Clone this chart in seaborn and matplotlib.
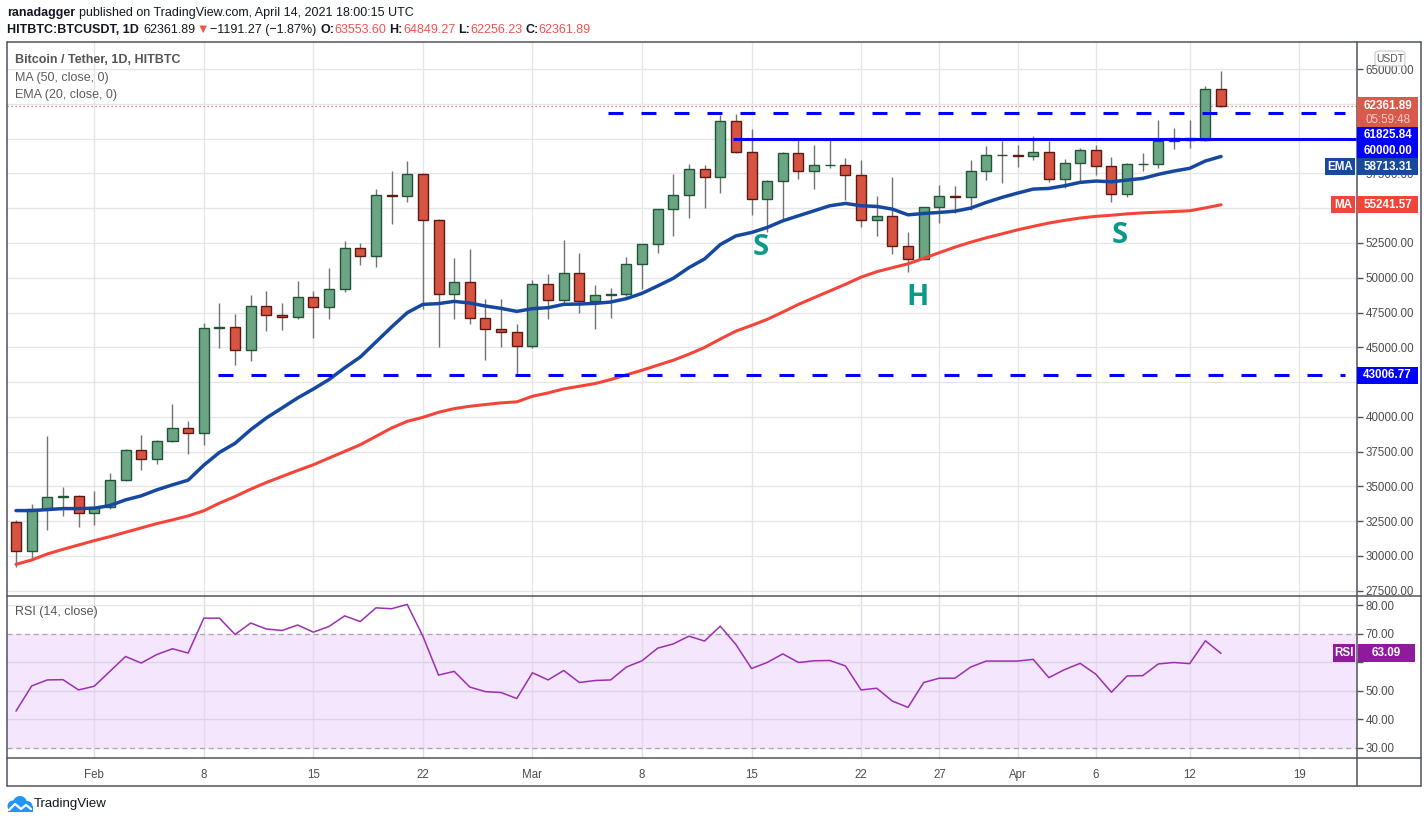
import numpy as np
import pandas as pd
import seaborn as sns
import matplotlib.pyplot as plt
from matplotlib.lines import Line2D
from matplotlib.patches import Rectangle, FancyBboxPatch, Circle

# ---- data (HITBTC BTC/USDT daily, Jan 27 - Apr 14 2021) ----
dates = pd.date_range("2021-01-27", "2021-04-14", freq="D")

opens = [32430, 30340, 33360, 34230, 34280,
         33070, 33510, 35450, 37610, 36970, 38260, 39200, 38840, 46400, 46480,
         44820, 47990, 47340, 47200, 48640, 47920, 49220, 52100, 51590, 55920,
         55880, 57430, 54120, 48850, 49720, 47130, 46330, 46120,
         45080, 49570, 48400, 50370, 48320, 48780, 48830, 50950, 52390, 54910,
         55920, 57790, 57210, 61250, 59010, 55630, 56930, 58940, 57650, 58080,
         58120, 57360, 54120, 54400, 52310, 51380, 55050, 55840, 55790, 57650,
         58800,
         58830, 58760, 59020, 57070, 58220, 59160, 58010, 55990, 58150, 58180,
         59810, 60020, 59900, 63553.60]
highs = [32590, 33750, 38600, 34970, 34370,
         34680, 35980, 37700, 38720, 38360, 40950, 39730, 46760, 48160, 47360,
         48730, 49020, 48160, 49740, 49020, 50680, 52620, 52530, 56370, 57670,
         58390, 57520, 54210, 51400, 52050, 48450, 48450, 46640,
         49810, 50250, 52700, 51760, 49450, 49240, 51470, 52450, 54950, 57480,
         58170, 58100, 61730, 61780, 60690, 57000, 59020, 59970, 59540, 59970,
         58580, 58440, 55840, 57210, 53250, 55100, 56640, 56600, 58460, 59470,
         59830,
         59520, 60170, 59830, 58510, 59300, 59520, 58650, 58220, 58940, 61340,
         60730, 61340, 63770, 64849.27]
lows = [29230, 29760, 31900, 32840, 32110,
        32260, 33410, 35360, 36150, 36600, 38160, 37300, 37950, 44940, 43710,
        44000, 46160, 46230, 47030, 45660, 47030, 49000, 50920, 50770, 53870,
        55460, 47750, 45010, 47030, 46670, 44070, 45010, 43020,
        44940, 47030, 48040, 47460, 46310, 47100, 48700, 49220, 51780, 53010,
        54300, 55020, 56100, 58950, 54520, 53320, 54190, 57070, 56350, 57860,
        55560, 53680, 53030, 51740, 50440, 51300, 53940, 54680, 54880, 57040,
        56830,
        57930, 58440, 56900, 56460, 56830, 57400, 55460, 55790, 57690, 57910,
        59230, 59330, 59810, 62256.23]
closes = [30340, 33360, 34230, 34280, 33070,
          33510, 35450, 37610, 36970, 38260, 39200, 38840, 46400, 46480, 44820,
          47990, 47340, 47200, 48640, 47920, 49220, 52100, 51590, 55920, 55880,
          57430, 54120, 48850, 49720, 47130, 46330, 46120, 45080,
          49570, 48400, 50370, 48320, 48780, 48830, 50950, 52390, 54910, 55920,
          57790, 57210, 61250, 59010, 55630, 56930, 58940, 57650, 58080, 58120,
          57360, 54120, 54400, 52310, 51380, 55050, 55840, 55790, 57650, 58800,
          58830,
          58760, 59020, 57070, 58220, 59160, 58010, 55990, 58150, 58180, 59810,
          60020, 59900, 63553.60, 62361.89]

ema20 = [33264, 33264, 33336, 33408, 33408,
         33434, 33626, 34034, 34322, 34755, 35115, 35451, 36530, 37445, 38100,
         39078, 39921, 40640, 41362, 42000, 42681, 43523, 44300, 45380, 46460,
         47486, 48085, 48140, 48300, 48180, 47963, 47797, 47580,
         47775, 47847, 48085, 48109, 48157, 48253, 48494, 48877, 49406, 49958,
         50726, 51350, 52380, 53005, 53250, 53610, 54090, 54451, 54811, 55171,
         55340, 55171, 55123, 54930, 54519, 54619, 54691, 54780, 55002, 55411,
         55771,
         56082, 56370, 56418, 56608, 56853, 56947, 56896, 57018, 57138, 57430,
         57667, 57862, 58388, 58713.31]
ma50 = [29400, 29712, 30144, 30480, 30792,
        31105, 31393, 31705, 32018, 32330, 32594, 32882, 33250, 33800, 34274,
        34806, 35284, 35716, 36148, 36557, 37039, 37517, 37998, 38597, 39201,
        39679, 39967, 40328, 40592, 40760, 40886, 41006, 41078,
        41480, 41720, 42008, 42200, 42393, 42681, 43019, 43351, 43711, 44071,
        44503, 44990, 45590, 46161, 46569, 47004, 47530, 48085, 48566, 49045,
        49526, 50040, 50430, 50720, 51000, 51390, 51800, 52200, 52550, 52870,
        53150,
        53440, 53690, 53930, 54120, 54290, 54410, 54490, 54590, 54660, 54710,
        54760, 54810, 55020, 55241.57]
rsi14 = [42.9, 51.7, 53.8, 53.9, 50.3,
         51.6, 56.8, 62.0, 59.7, 62.7, 64.7, 63.2, 75.4, 75.4, 69.7,
         73.7, 71.6, 71.1, 73.0, 70.5, 72.5, 76.2, 74.2, 79.0, 78.7,
         80.2, 69.1, 55.5, 56.8, 51.3, 49.7, 49.4, 47.3,
         56.3, 53.8, 57.1, 52.9, 53.6, 53.8, 58.3, 60.5, 64.9, 66.4,
         69.1, 67.4, 72.6, 66.2, 57.8, 59.9, 62.9, 59.9, 60.5, 60.6,
         58.7, 50.3, 50.9, 46.4, 44.2, 52.9, 54.4, 54.4, 58.3, 60.4,
         60.4,
         60.4, 61.0, 54.6, 57.4, 59.6, 55.8, 49.5, 55.2, 55.3, 59.4,
         59.9, 59.5, 67.5, 63.09]

tick_dates = ["2021-02-01", "2021-02-08", "2021-02-15", "2021-02-22", "2021-03-01",
              "2021-03-08", "2021-03-15", "2021-03-22", "2021-03-27", "2021-04-01",
              "2021-04-06", "2021-04-12", "2021-04-19"]
tick_labels = ["Feb", "8", "15", "22", "Mar", "8", "15", "22", "27", "Apr", "6", "12", "19"]
price_ticks = list(range(27500, 65001, 2500))
price_hidden = [62500, 60000, 55000, 42500]   # covered by value tags on the scale
rsi_ticks = [30, 40, 50, 60, 70, 80]
rsi_hidden = [60]

last_price = 62361.89
levels = [61825.84, 60000.00, 43006.77]          # drawn support/resistance lines
level_span = [(37.8, 84.9), (45.8, 85.7), (12.9, 84.9)]  # in days from Jan 27
level_dashed = [True, False, True]
pattern_text = ["S", "H", "S"]
pattern_day = [47.6, 57.6, 70.5]
pattern_price = [52140, 48610, 53000]

# ---- style ----
W, H = 1428, 823
UP, UP_EDGE = "#6ba583", "#225437"
DN, DN_EDGE = "#d75442", "#5b1a13"
WICK = "#737375"
GRID = "#e6e6e6"
FRAME = "#50535e"
TXT = "#4c4c4c"

sns.set_theme(style="white")
plt.rcParams["font.family"] = ["Liberation Sans", "DejaVu Sans"]

df = pd.DataFrame({"day": np.arange(len(dates)), "open": opens, "high": highs,
                   "low": lows, "close": closes, "ema": ema20, "ma": ma50, "rsi": rsi14})
tick_pos = [(pd.Timestamp(d) - dates[0]).days for d in tick_dates]

fig = plt.figure(figsize=(W / 100, H / 100), dpi=100)
fig.patch.set_facecolor("white")


def fbox(x0, y0, x1, y1):
    """pixel box (top-left origin) -> figure fraction rect"""
    return [x0 / W, 1 - y1 / H, (x1 - x0) / W, (y1 - y0) / H]


ax = fig.add_axes(fbox(7, 42, 1357, 596))
ax_rsi = fig.add_axes(fbox(7, 596, 1357, 758), sharex=ax)
xlim = (-0.575, 85.69)

# ---- price panel ----
ax.set_xlim(*xlim)
ax.set_ylim(27125, 66941)
for v in price_ticks:
    ax.axhline(v, color=GRID, lw=1, zorder=0)
for t in tick_pos:
    ax.axvline(t, color=GRID, lw=1, zorder=0)

up = df["close"] >= df["open"]
ax.vlines(df["day"], df["low"], df["high"], color=WICK, lw=1, zorder=2)
ax.bar(df["day"][up], (df["close"] - df["open"])[up], bottom=df["open"][up], width=0.64,
       color=UP, edgecolor=UP_EDGE, linewidth=1, zorder=3)
ax.bar(df["day"][~up], (df["open"] - df["close"])[~up], bottom=df["close"][~up], width=0.64,
       color=DN, edgecolor=DN_EDGE, linewidth=1, zorder=3)

sns.lineplot(data=df, x="day", y="ma", ax=ax, color="#f5453a", linewidth=2.2, zorder=4, legend=False)
sns.lineplot(data=df, x="day", y="ema", ax=ax, color="#1648a0", linewidth=2.5, zorder=4, legend=False)

for lv, (s, e), dashed in zip(levels, level_span, level_dashed):
    ax.hlines(lv, s, e, colors="#0000ff", lw=2.2, zorder=5,
              linestyles=(0, (4.9, 5.9)) if dashed else "solid")
ax.axhline(last_price, color="#e0685a", lw=0.9, ls=(0, (1, 2.2)), zorder=1)

for s, d, p in zip(pattern_text, pattern_day, pattern_price):
    ax.text(d, p, s, color="#0a9a8a", fontsize=21, fontweight="bold",
            ha="center", va="center", family=["Open Sans", "DejaVu Sans"], zorder=6)

ax.yaxis.tick_right()
ax.set_yticks(price_ticks)
ax.set_yticklabels(["" if v in price_hidden else f"{v:.2f}" for v in price_ticks])
ax.tick_params(axis="y", direction="out", length=4, width=1, color=FRAME, pad=2,
               labelsize=8.3, labelcolor=TXT)
ax.tick_params(axis="x", length=0, labelbottom=False)
ax.set_xlabel("")
ax.set_ylabel("")
for sp in ax.spines.values():
    sp.set_visible(False)

ax.text(0.006, 1 - 18 / 554, "Bitcoin / Tether, 1D, HITBTC", transform=ax.transAxes,
        fontsize=9, color="#555555", fontweight="bold", va="center")
ax.text(0.006, 1 - 36 / 554, "MA (50, close, 0)", transform=ax.transAxes,
        fontsize=9, color="#5c5c5c", va="center")
ax.text(0.006, 1 - 53 / 554, "EMA (20, close, 0)", transform=ax.transAxes,
        fontsize=9, color="#5c5c5c", va="center")

# ---- RSI panel ----
ax_rsi.set_ylim(26.5, 83.15)
ax_rsi.axhspan(30, 70, color="#f3e6fd", zorder=0)
for t in tick_pos:
    ax_rsi.axvline(t, color="#e2dbe8", lw=1, zorder=1)
for v in [40, 50, 60, 80]:
    ax_rsi.axhline(v, color="#dcd3e4" if v < 70 else GRID, lw=1, zorder=1)
for v in [30, 70]:
    ax_rsi.axhline(v, color="#a9a4ae", lw=0.9, ls=(0, (4, 3)), zorder=2)
sns.lineplot(data=df, x="day", y="rsi", ax=ax_rsi, color="#9c2fb0", linewidth=1.1, zorder=3, legend=False)
ax_rsi.yaxis.tick_right()
ax_rsi.set_yticks(rsi_ticks)
ax_rsi.set_yticklabels(["" if v in rsi_hidden else f"{v:.2f}" for v in rsi_ticks])
ax_rsi.tick_params(axis="y", direction="out", length=4, width=1, color=FRAME, pad=2,
                   labelsize=8.3, labelcolor=TXT)
ax_rsi.set_xticks(tick_pos)
ax_rsi.set_xticklabels(tick_labels)
ax_rsi.tick_params(axis="x", direction="out", length=4, width=1, color=FRAME, pad=4,
                   labelsize=8.3, labelcolor=TXT, labelbottom=True)
ax_rsi.set_xlabel("")
ax_rsi.set_ylabel("")
for sp in ax_rsi.spines.values():
    sp.set_visible(False)
ax_rsi.text(0.006, 1 - 16 / 162, "RSI (14, close)", transform=ax_rsi.transAxes,
            fontsize=9, color="#555555", va="center")

# ---- frame ----
def fline(x0, y0, x1, y1, color=FRAME, lw=1.1):
    fig.add_artist(Line2D([x0 / W, x1 / W], [1 - y0 / H, 1 - y1 / H], color=color, lw=lw,
                          transform=fig.transFigure, zorder=10))

fline(7, 42, 1421, 42)
fline(7, 786, 1421, 786)
fline(7, 42, 7, 786)
fline(1421, 42, 1421, 786)
fline(7, 596, 1421, 596)
fline(7, 758, 1421, 758)
fline(1357, 42, 1357, 786)

# ---- axis value boxes ----
def ypix(a, v):
    return H - a.transData.transform((0, v))[1]


def tag(x0, x1, yc, text, face, color="white", h=17, size=8.4, weight="bold"):
    fig.add_artist(Rectangle((x0 / W, 1 - (yc + h / 2) / H), (x1 - x0) / W, h / H,
                             transform=fig.transFigure, facecolor=face, edgecolor="none", zorder=11))
    fig.text((x0 + x1) / 2 / W, 1 - yc / H, text, color=color, fontsize=size, fontweight=weight,
             ha="center", va="center", zorder=12)


yc = ypix(ax, last_price)
fig.add_artist(Rectangle((1357 / W, 1 - (yc + 21) / H), 61 / W, 30 / H, transform=fig.transFigure,
                         facecolor="#d9594c", edgecolor="none", zorder=11))
fig.text(1388 / W, 1 - (yc + 0.5) / H, f"{last_price:.2f}", color="white", fontsize=8.4,
         fontweight="bold", ha="center", va="center", zorder=12)
fig.text(1388 / W, 1 - (yc + 14) / H, "05:59:48", color="#f6cdc7", fontsize=8.4,
         ha="center", va="center", zorder=12)

tag(1357, 1418, ypix(ax, levels[0]) + 22, f"{levels[0]:.2f}", "#0000ff", h=16)
tag(1357, 1418, ypix(ax, levels[1]) + 12, f"{levels[1]:.2f}", "#0000ff", h=16)
tag(1357, 1418, ypix(ax, levels[2]), f"{levels[2]:.2f}", "#0000ff", h=17)
ye = ypix(ax, ema20[-1]) + 10.5
tag(1325, 1355, ye, "EMA", "#174a9c", h=17)
tag(1357, 1418, ye, f"{ema20[-1]:.2f}", "#174a9c", h=17)
ym = ypix(ax, ma50[-1])
tag(1331, 1355, ym, "MA", "#f0453a", h=17)
tag(1357, 1418, ym, f"{ma50[-1]:.2f}", "#f0453a", h=17)
yr = ypix(ax_rsi, rsi14[-1])
tag(1333, 1355, yr, "RSI", "#8e1a9c", h=18)
tag(1358, 1415, yr, f"{rsi14[-1]:.2f}", "#8e1a9c", h=18)

fig.add_artist(FancyBboxPatch((1375 / W, 1 - 66 / H), 30 / W, 15 / H, transform=fig.transFigure,
                              boxstyle="round,pad=0,rounding_size=0.003", facecolor="white",
                              edgecolor="#c8c8c8", lw=0.8, zorder=11))
fig.text(1390 / W, 1 - 58.5 / H, "USDT", color="#555555", fontsize=7.5, ha="center",
         va="center", zorder=12)

# ---- header ----
renderer = fig.canvas.get_renderer()


def run_text(x, y, pieces, size=9):
    for s, color, weight, gap in pieces:
        t = fig.text(x / W, 1 - y / H, s, color=color, fontsize=size, fontweight=weight,
                     ha="left", va="center")
        x += t.get_window_extent(renderer=renderer).width + gap


DARK, RED = "#131722", "#ef5350"
run_text(7, 13, [("ranadagger", DARK, "bold", 4),
                 ("published on TradingView.com, April 14, 2021 18:00:15 UTC", DARK, "normal", 0)])
run_text(7, 30, [("HITBTC:BTCUSDT, 1D", DARK, "bold", 5),
                 ("62361.89", DARK, "normal", 0),
                 ("▼", RED, "normal", 2),
                 ("−1191.27 (−1.87%)", DARK, "normal", 4),
                 ("O:", DARK, "bold", 0), ("63553.60", RED, "normal", 3),
                 ("H:", DARK, "bold", 0), ("64849.27", RED, "normal", 3),
                 ("L:", DARK, "bold", 0), ("62256.23", RED, "normal", 3),
                 ("C:", DARK, "bold", 0), ("62361.89", RED, "normal", 0)], size=9)

# ---- TradingView logo ----
lax = fig.add_axes(fbox(6, 795, 33, 814))
lax.set_xlim(0, 27)
lax.set_ylim(0, 19)
lax.axis("off")
for cx, cy, r in [(7, 8, 5.5), (14, 11, 7), (21, 7.5, 5.5)]:
    lax.add_patch(Circle((cx, cy), r, color="#2196f3", lw=0))
lax.add_patch(Rectangle((1.5, 2), 25, 6, color="#2196f3", lw=0))
lax.plot([3, 9, 15, 20, 25], [4, 10, 5, 9, 5], color="white", lw=1.6)
fig.text(34 / W, 1 - 804 / H, "TradingView", color=DARK, fontsize=9.5, ha="left", va="center")

fig.savefig("out.png", dpi=100, facecolor="white")
